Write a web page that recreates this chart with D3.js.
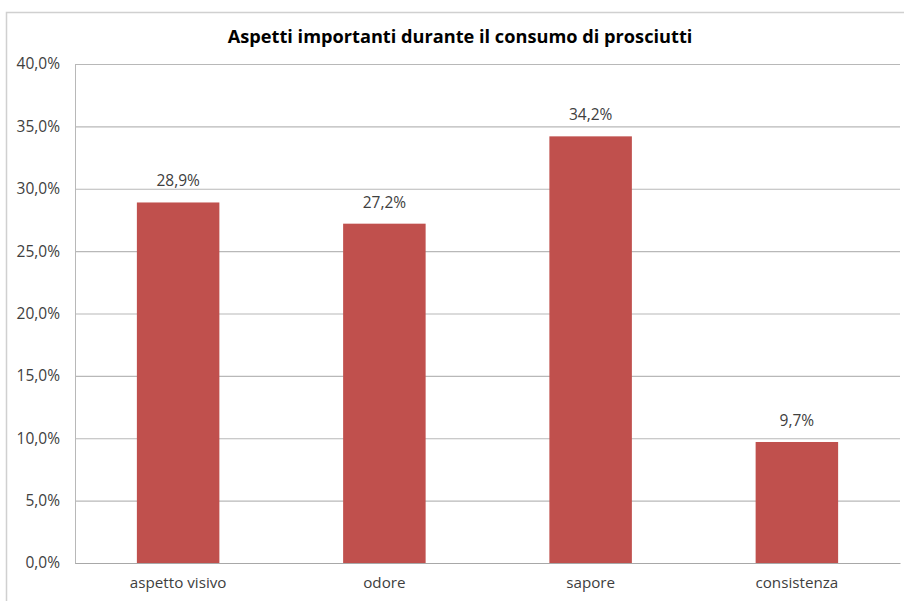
<!DOCTYPE html>
<html>
<head>
<meta charset="utf-8">
<script src="https://cdn.jsdelivr.net/npm/d3@7"></script>
<style>
  html, body { margin: 0; padding: 0; background: #fff; }
  svg { display: block; }
  svg text { font-family: "Open Sans", "Liberation Sans", sans-serif; }
</style>
</head>
<body>
<svg id="chart" width="904" height="601"></svg>
<script>
// Aspects considered important when eating prosciutto (share of answers)
const categories = ["aspetto visivo", "odore", "sapore", "consistenza"];
const values = [28.9, 27.2, 34.2, 9.7];
const yTicks = [0, 5, 10, 15, 20, 25, 30, 35, 40];
const title = "Aspetti importanti durante il consumo di prosciutti";

const svg = d3.select("#chart");
const margin = { left: 75, right: 4, top: 64, bottom: 38 };
const W = 904, H = 601;
const FONT = "'Open Sans', 'Liberation Sans', sans-serif";

const fmt = v => v.toFixed(1).replace(".", ",") + "%";

// outer chart frame
svg.append("rect")
  .attr("x", 6.5).attr("y", 12.5)
  .attr("width", 904).attr("height", 604)
  .attr("fill", "#fff").attr("stroke", "#d0d0d0").attr("stroke-width", 1.5);

const x = d3.scaleBand()
  .domain(categories)
  .range([margin.left, W - margin.right])
  .paddingInner(0.6).paddingOuter(0.3);

const y = d3.scaleLinear()
  .domain([0, 40])
  .range([H - margin.bottom, margin.top]);

// horizontal gridlines + y labels
const yAxis = d3.axisLeft(y)
  .tickValues(yTicks)
  .tickFormat(fmt)
  .tickSize(-(W - margin.right - margin.left))
  .tickPadding(15);

const gy = svg.append("g")
  .attr("transform", `translate(${margin.left},0)`)
  .call(yAxis)
  .attr("font-family", FONT);
gy.select(".domain").attr("stroke", "#b8b8b8");
gy.selectAll(".tick line").attr("stroke", "#b8b8b8").attr("stroke-width", 1.2);
gy.selectAll(".tick text")
  .attr("fill", "#404040")
  .attr("font-size", 15.5);

// bars
svg.append("g").selectAll("rect")
  .data(values)
  .join("rect")
  .attr("x", (d, i) => x(categories[i]))
  .attr("y", d => y(d))
  .attr("width", x.bandwidth())
  .attr("height", d => y(0) - y(d))
  .attr("fill", "#c0504d");

// value labels
svg.append("g").selectAll("text")
  .data(values)
  .join("text")
  .attr("x", (d, i) => x(categories[i]) + x.bandwidth() / 2)
  .attr("y", d => y(d) - 16)
  .attr("text-anchor", "middle")
  .attr("fill", "#404040")
  .attr("font-size", 15.5)
  .text(fmt);

// x axis
const gx = svg.append("g")
  .attr("transform", `translate(0,${y(0)})`)
  .call(d3.axisBottom(x).tickSize(0).tickPadding(14))
  .attr("font-family", FONT);
gx.select(".domain").attr("stroke", "#a8a8a8").attr("stroke-width", 1.2);
gx.selectAll(".tick text")
  .attr("fill", "#404040")
  .attr("font-size", 15.2);

// title
svg.append("text")
  .attr("x", 460).attr("y", 43)
  .attr("text-anchor", "middle")
  .attr("font-weight", "bold")
  .attr("font-size", 18.2)
  .attr("fill", "#000")
  .text(title);
</script>
</body>
</html>
